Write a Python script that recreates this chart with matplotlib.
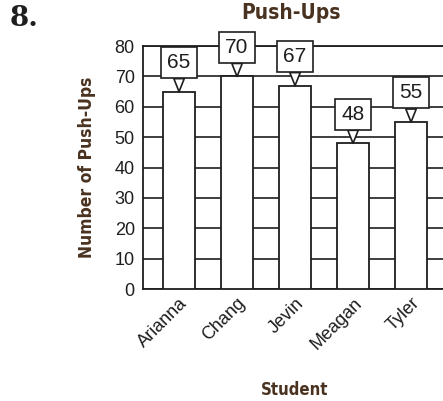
import matplotlib
matplotlib.use('Agg')
import matplotlib.pyplot as plt

students = ['Arianna', 'Chang', 'Jevin', 'Meagan', 'Tyler']
pushups = [65, 70, 67, 48, 55]
yticks = [0, 10, 20, 30, 40, 50, 60, 70, 80]

ink = '#1e1e1e'
brown = '#4a3220'

fig = plt.figure(figsize=(4.43, 4.01), dpi=100)
ax = fig.add_axes([0.323, 0.279, 0.686, 0.606])

x = list(range(len(students)))
ax.bar(x, pushups, width=0.55, color='white', edgecolor=ink, linewidth=1.3, zorder=3)

ax.set_xlim(-0.62, 4.62)
ax.set_ylim(0, 80)
ax.set_yticks(yticks)
ax.set_yticklabels([str(v) for v in yticks], fontsize=13, family='Liberation Sans', color=ink)
ax.set_xticks(x)
ax.set_xticklabels(students, rotation=45, ha='right', rotation_mode='anchor',
                   fontsize=13, family='Liberation Sans', color=ink)
ax.tick_params(length=0, pad=6)
ax.tick_params(axis='x', pad=4)
ax.yaxis.grid(True, color=ink, linewidth=1.2, zorder=1)
ax.set_axisbelow(True)
for s in ['left', 'top', 'bottom']:
    ax.spines[s].set_color(ink)
    ax.spines[s].set_linewidth(1.3)
ax.spines['right'].set_visible(False)

# value callouts above each bar
for xi, v in zip(x, pushups):
    ax.annotate(str(v), xy=(xi, v), xytext=(0, 21), textcoords='offset points',
                ha='center', va='center', fontsize=15, family='Liberation Sans', color=ink,
                bbox=dict(boxstyle='square,pad=0.29', fc='white', ec=ink, lw=1.2),
                arrowprops=dict(arrowstyle='wedge,tail_width=0.5', fc='white', ec=ink,
                                lw=1.2, shrinkA=0, shrinkB=0),
                zorder=5, annotation_clip=False)

ax.set_ylabel('Number of Push-Ups', fontsize=12.5, fontweight='bold', family='DejaVu Sans',
              fontstretch='condensed', color=brown, labelpad=13)
fig.text(0.664, 0.027, 'Student', ha='center', va='center', fontsize=12,
         fontweight='bold', family='DejaVu Sans', fontstretch='condensed', color=brown)
fig.text(0.658, 0.968, 'Push-Ups', ha='center', va='center', fontsize=15,
         fontweight='bold', family='DejaVu Sans', fontstretch='condensed', color=brown)
fig.text(0.022, 0.955, '8.', ha='left', va='center', fontsize=20,
         fontweight='bold', family='DejaVu Serif', color=ink)

fig.savefig('out.png', dpi=100)
